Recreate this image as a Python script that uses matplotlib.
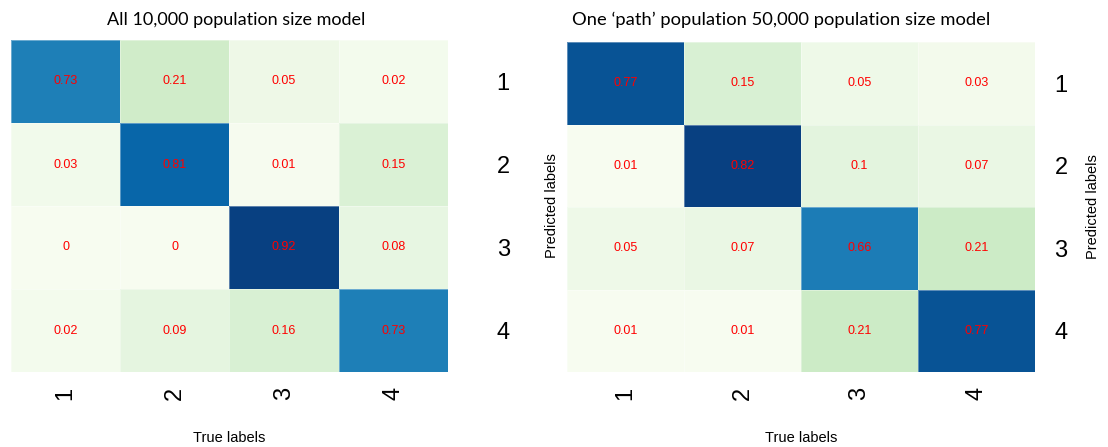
import numpy as np
import matplotlib
matplotlib.use("Agg")
import matplotlib.pyplot as plt

# Confusion matrices (rows = predicted label, columns = true label)
class_labels = ["1", "2", "3", "4"]

all_10k = [
    [0.73, 0.21, 0.05, 0.02],
    [0.03, 0.81, 0.01, 0.15],
    [0.00, 0.00, 0.92, 0.08],
    [0.02, 0.09, 0.16, 0.73],
]

one_path_50k = [
    [0.77, 0.15, 0.05, 0.03],
    [0.01, 0.82, 0.10, 0.07],
    [0.05, 0.07, 0.66, 0.21],
    [0.01, 0.01, 0.21, 0.77],
]

titles = [
    "All 10,000 population size model",
    "One \u2018path\u2019 population 50,000 population size model",
]

W, H = 1108, 447
fig = plt.figure(figsize=(W / 100, H / 100), dpi=100)

TICK_FONT = "Liberation Sans"


def px_rect(left, top, right, bottom):
    return [left / W, 1 - bottom / H, (right - left) / W, (bottom - top) / H]


def draw_matrix(ax, matrix, ytick_pad, ylabel_x):
    data = np.asarray(matrix, dtype=float)
    n = data.shape[0]
    ax.pcolormesh(
        np.arange(n + 1), np.arange(n + 1), data,
        cmap="GnBu", vmin=data.min(), vmax=data.max(),
        edgecolors=(1, 1, 1, 0.35), linewidth=0.6,
    )
    ax.set_xlim(0, n)
    ax.set_ylim(n, 0)
    for r in range(n):
        for c in range(n):
            ax.text(c + 0.5, r + 0.5, f"{data[r, c]:g}",
                    ha="center", va="center", color="red",
                    fontsize=9, family=TICK_FONT)
    centers = np.arange(n) + 0.5
    ax.set_xticks(centers)
    ax.set_xticklabels(class_labels, rotation=90, fontsize=17, family=TICK_FONT)
    ax.set_yticks(centers)
    ax.set_yticklabels(class_labels, fontsize=17, family=TICK_FONT)
    ax.yaxis.tick_right()
    ax.tick_params(axis="x", length=0, pad=11)
    ax.tick_params(axis="y", length=0, pad=ytick_pad)
    for s in ax.spines.values():
        s.set_visible(False)
    height_px = ax.get_position().height * H
    ax.set_xlabel("True labels", fontsize=10.5, family=TICK_FONT)
    ax.xaxis.set_label_coords(0.5, -(431 - 372) / height_px)
    ax.set_ylabel("Predicted labels", fontsize=10.5, family=TICK_FONT)
    ax.yaxis.set_label_position("right")
    ax.yaxis.label.set_rotation(90)
    ax.yaxis.set_label_coords(ylabel_x, 0.5)


ax1 = fig.add_axes(px_rect(11, 40, 448, 372))
draw_matrix(ax1, all_10k, ytick_pad=35, ylabel_x=(545 - 11) / (448 - 11))

ax2 = fig.add_axes(px_rect(567, 42, 1035, 372))
draw_matrix(ax2, one_path_50k, ytick_pad=14, ylabel_x=(1086 - 567) / (1035 - 567))

fig.text(236.5 / W, 1 - 25 / H, titles[0], ha="center", va="baseline",
         fontsize=13, family="Lato")
fig.text(781 / W, 1 - 25 / H, titles[1], ha="center", va="baseline",
         fontsize=13.2, family="Lato")

fig.savefig("out.png", dpi=100)
